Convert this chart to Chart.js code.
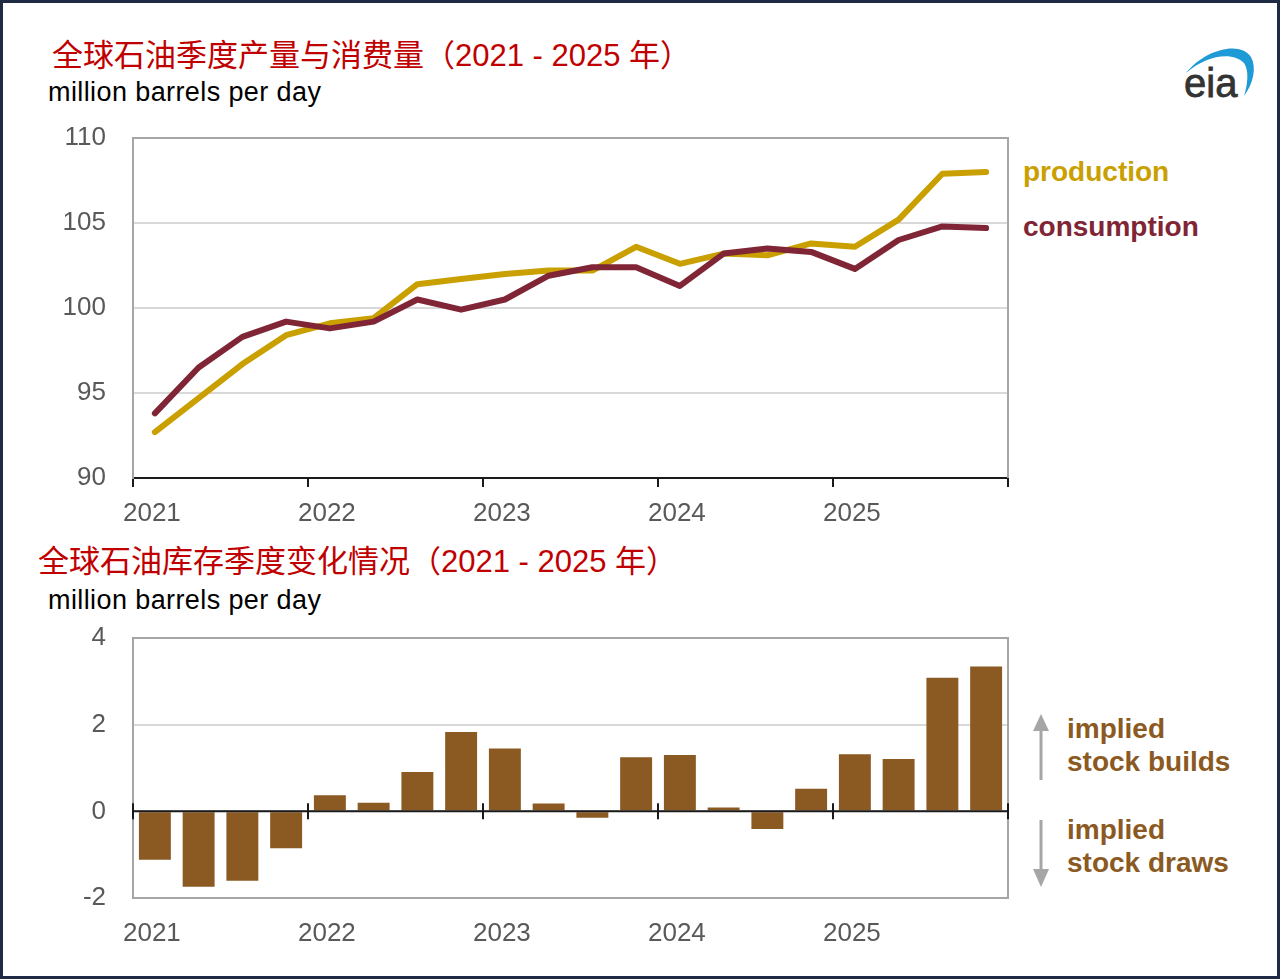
<!DOCTYPE html>
<html>
<head>
<meta charset="utf-8">
<script src="https://cdn.jsdelivr.net/npm/chart.js@4.4.1/dist/chart.umd.min.js"></script>
<style>
  body { margin: 0; background: #fff; }
  #page { position: relative; width: 1280px; height: 979px; background: #fff; overflow: hidden;
          font-family: "Liberation Sans", Arial, sans-serif; }
  #frame { position: absolute; left: 0; top: 0; width: 1280px; height: 979px; box-sizing: border-box;
           border: 3px solid #1f2b45; pointer-events: none; z-index: 10; }
  .abs { position: absolute; white-space: nowrap; }
  .title { font-family: "Liberation Sans", "Noto Sans CJK SC", sans-serif; color: #c00000; font-size: 31px; line-height: 31px; }
  .unit { font-size: 27px; line-height: 27px; color: #000; letter-spacing: 0.4px; }
  .lbl { font-weight: bold; font-size: 28px; line-height: 28px; }
  .stock { color: #8b5a22; }
  canvas { position: absolute; left: 0; }
</style>
</head>
<body>
<div id="page">
  <div class="abs title" style="left:52px; top:40px;">全球石油季度产量与消费量（2021 - 2025 年）</div>
  <div class="abs unit" style="left:48px; top:79px;">million barrels per day</div>

  <div class="abs title" style="left:38px; top:546px;">全球石油库存季度变化情况（2021 - 2025 年）</div>
  <div class="abs unit" style="left:48px; top:587px;">million barrels per day</div>

  <div class="abs lbl" style="left:1023px; top:158px; color:#c9a000;">production</div>
  <div class="abs lbl" style="left:1023px; top:213px; color:#7f2535;">consumption</div>

  <div class="abs lbl stock" style="left:1067px; top:715px;">implied</div>
  <div class="abs lbl stock" style="left:1067px; top:748px;">stock builds</div>
  <div class="abs lbl stock" style="left:1067px; top:816px;">implied</div>
  <div class="abs lbl stock" style="left:1067px; top:849px;">stock draws</div>

  <svg class="abs" style="left:0; top:0;" width="1280" height="979">
    <!-- eia logo arc -->
    <path d="M1186,73 C1204,50 1240,40 1251,57 C1257,68 1253,84 1244,96 C1248,84 1249,70 1244,63 C1233,51 1206,55 1186,73 Z" fill="#1e9ad6"/>
    <text x="1184" y="97" font-family="Liberation Sans, Arial, sans-serif" font-size="40" fill="#333" stroke="#333" stroke-width="0.8">eia</text>
    <!-- build / draw arrows -->
    <line x1="1041" y1="728" x2="1041" y2="780" stroke="#a6a6a6" stroke-width="3"/>
    <polygon points="1033,731 1049,731 1041,714" fill="#a6a6a6"/>
    <line x1="1041" y1="820" x2="1041" y2="872" stroke="#a6a6a6" stroke-width="3"/>
    <polygon points="1033,869 1049,869 1041,887" fill="#a6a6a6"/>
  </svg>

  <canvas id="flowChart" width="1030" height="420" style="top:120px;"></canvas>
  <canvas id="stockChart" width="1030" height="340" style="top:620px;"></canvas>
  <div id="frame"></div>
</div>

<script>
// Quarters 2021Q1 .. 2025Q4
const quarters = [
  '2021Q1', '2021Q2', '2021Q3', '2021Q4',
  '2022Q1', '2022Q2', '2022Q3', '2022Q4',
  '2023Q1', '2023Q2', '2023Q3', '2023Q4',
  '2024Q1', '2024Q2', '2024Q3', '2024Q4',
  '2025Q1', '2025Q2', '2025Q3', '2025Q4'
];

// Global liquids production and consumption, million barrels per day
const production = [
  92.7, 94.7, 96.7, 98.4,
  99.1, 99.4, 101.4, 101.7,
  102.0, 102.2, 102.2, 103.6,
  102.6, 103.2, 103.1, 103.8,
  103.6, 105.2, 107.9, 108.0
];
const consumption = [
  93.8, 96.5, 98.3, 99.2,
  98.8, 99.2, 100.5, 99.9,
  100.5, 101.9, 102.4, 102.4,
  101.3, 103.2, 103.5, 103.3,
  102.3, 104.0, 104.8, 104.7
];

// Implied stock change, million barrels per day
const stockChange = [
  -1.12, -1.74, -1.60, -0.85,
  0.37, 0.20, 0.91, 1.83,
  1.45, 0.18, -0.15, 1.25,
  1.30, 0.09, -0.41, 0.52,
  1.32, 1.21, 3.08, 3.34
];

const flowTicks = [90, 95, 100, 105, 110];
const stockTicks = [-2, 0, 2, 4];

const tickFont = { family: 'Liberation Sans, Arial, sans-serif', size: 26 };
const tickColor = '#595959';
const gridGray = '#d9d9d9';
const boxGray = '#a6a6a6';

function yearLabel(val, idx) {
  return idx % 4 === 0 ? quarters[idx].slice(0, 4) : '';
}

function isYearLine(c) {
  return c.index === undefined || c.index % 4 === 0;
}

// no extra room for overhanging labels, keep plot areas fixed
function noPad(s) {
  s.paddingTop = 0;
  s.paddingBottom = 0;
  s.paddingLeft = 0;
  s.paddingRight = 0;
}

// gray box on the top and right edge of the plot
const plotBox = {
  id: 'plotBox',
  beforeDatasetsDraw(chart) {
    const { ctx, chartArea: a } = chart;
    ctx.save();
    ctx.strokeStyle = boxGray;
    ctx.lineWidth = 2;
    ctx.beginPath();
    ctx.moveTo(a.left, a.top);
    ctx.lineTo(a.right, a.top);
    ctx.lineTo(a.right, a.bottom);
    ctx.stroke();
    ctx.restore();
  }
};

// zero line with year ticks for the bar chart
const zeroAxis = {
  id: 'zeroAxis',
  afterDatasetsDraw(chart) {
    const { ctx, chartArea: a } = chart;
    const x = chart.scales.x;
    const y0 = chart.scales.y.getPixelForValue(0);
    ctx.save();
    ctx.strokeStyle = '#1a1a1a';
    ctx.lineWidth = 2;
    ctx.beginPath();
    ctx.moveTo(a.left, y0);
    ctx.lineTo(a.right, y0);
    for (let k = 0; k <= quarters.length; k += 4) {
      const px = x.getPixelForValue(k - 0.5);
      ctx.moveTo(px, y0 - 8);
      ctx.lineTo(px, y0 + 8);
    }
    ctx.stroke();
    ctx.restore();
  }
};

function yAxis(ticks, gridColor) {
  return {
    min: ticks[0],
    max: ticks[ticks.length - 1],
    afterFit: s => { s.width = 133; noPad(s); },
    afterBuildTicks: s => { s.ticks = ticks.map(v => ({ value: v })); },
    ticks: { font: tickFont, color: tickColor, padding: 27 },
    grid: { color: gridColor, lineWidth: 2, drawTicks: false },
    border: { color: boxGray, width: 2 }
  };
}

const baseOptions = {
  responsive: false,
  animation: false,
  layout: { padding: { top: 18, right: 22, left: 0, bottom: 0 }, autoPadding: false },
  plugins: { legend: { display: false }, tooltip: { enabled: false } }
};

new Chart(document.getElementById('flowChart'), {
  type: 'line',
  data: {
    labels: quarters,
    datasets: [
      {
        label: 'consumption',
        data: consumption,
        borderColor: '#7f2535',
        borderWidth: 6,
        pointRadius: 0,
        borderCapStyle: 'round',
        borderJoinStyle: 'round',
        tension: 0
      },
      {
        label: 'production',
        data: production,
        borderColor: '#c9a000',
        borderWidth: 6,
        pointRadius: 0,
        borderCapStyle: 'round',
        borderJoinStyle: 'round',
        tension: 0
      }
    ]
  },
  options: {
    ...baseOptions,
    scales: {
      x: {
        offset: true,
        afterFit: s => { s.height = 62; noPad(s); },
        ticks: { font: tickFont, color: tickColor, autoSkip: false, maxRotation: 0, padding: 11, labelOffset: -3, callback: yearLabel },
        grid: { offset: true, drawOnChartArea: false, drawTicks: true, tickLength: 9, lineWidth: 2,
                color: c => isYearLine(c) ? '#1a1a1a' : 'rgba(0,0,0,0)' },
        border: { color: '#1a1a1a', width: 2 }
      },
      y: yAxis(flowTicks, gridGray)
    }
  },
  plugins: [plotBox]
});

new Chart(document.getElementById('stockChart'), {
  type: 'bar',
  data: {
    labels: quarters,
    datasets: [{
      label: 'implied stock change',
      data: stockChange,
      backgroundColor: '#8b5a22',
      categoryPercentage: 1,
      barPercentage: 0.73
    }]
  },
  options: {
    ...baseOptions,
    scales: {
      x: {
        offset: true,
        afterFit: s => { s.height = 62; noPad(s); },
        ticks: { font: tickFont, color: tickColor, autoSkip: false, maxRotation: 0, padding: 20, labelOffset: -3, callback: yearLabel },
        grid: { offset: true, drawOnChartArea: false, drawTicks: false },
        border: { color: boxGray, width: 2 }
      },
      y: yAxis(stockTicks, gridGray)
    }
  },
  plugins: [plotBox, zeroAxis]
});
</script>
</body>
</html>
